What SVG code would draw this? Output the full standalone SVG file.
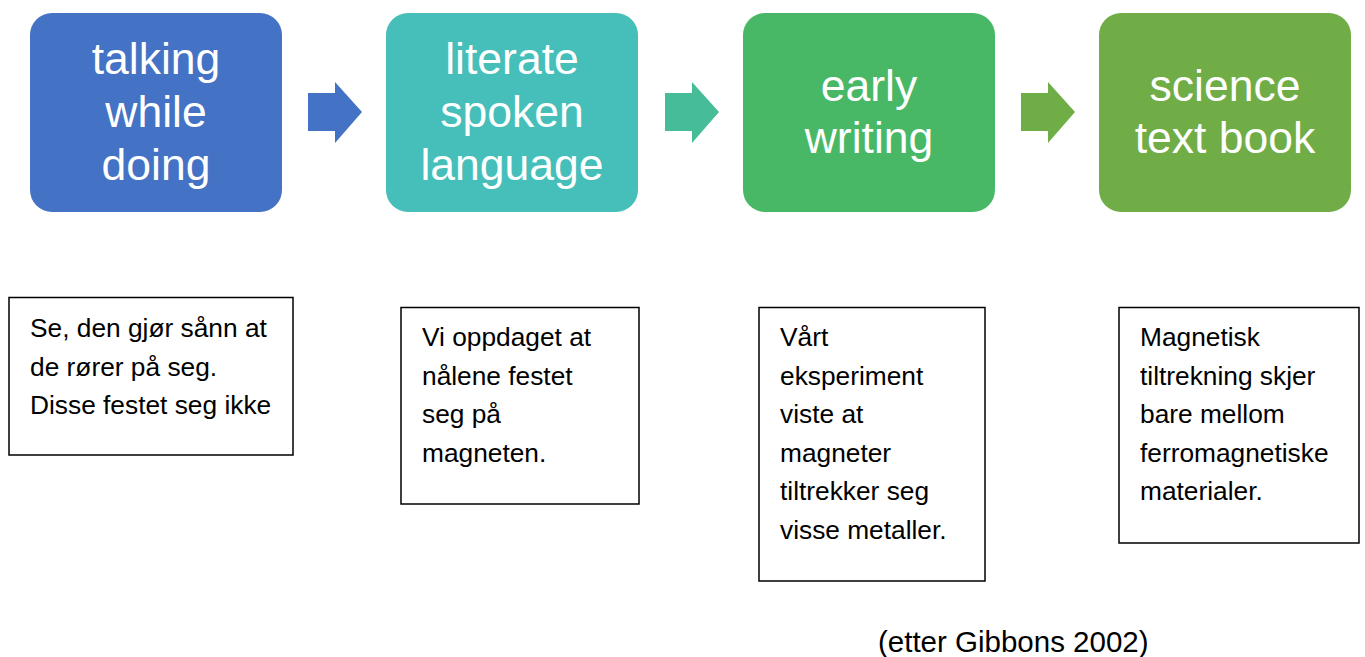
<svg xmlns="http://www.w3.org/2000/svg" width="1365" height="657" viewBox="0 0 1365 657">
<style>
.step{font-family:"Liberation Sans",Arial,sans-serif;font-size:44.5px;fill:#ffffff;text-anchor:middle}
.note{font-family:"Liberation Sans",Arial,sans-serif;font-size:26.3px;fill:#000000}
.nbox{fill:#ffffff;stroke:#000000;stroke-width:1.5}
.cap{font-family:"Liberation Sans",Arial,sans-serif;font-size:29.5px;fill:#000000}
</style>
<rect width="1365" height="657" fill="#ffffff"/>
<g id="connectors">
<polygon points="308,93 335,93 335,82 362,112 335,143 335,131 308,131" fill="#4472C4"/>
<polygon points="665,93 692,93 692,82 719,112 692,143 692,131 665,131" fill="#46BC98"/>
<polygon points="1021,93 1048,93 1048,82 1075,112 1048,143 1048,131 1021,131" fill="#6FAD47"/>
</g>
<g id="step1">
<rect x="30" y="13" width="252" height="199" rx="22" fill="#4472C4"/>
<text class="step" x="156" y="74">talking</text>
<text class="step" x="156" y="127">while</text>
<text class="step" x="156" y="180">doing</text>
</g>
<g id="step2">
<rect x="386" y="13" width="252" height="199" rx="22" fill="#46BFBA"/>
<text class="step" x="512" y="74">literate</text>
<text class="step" x="512" y="127">spoken</text>
<text class="step" x="512" y="180">language</text>
</g>
<g id="step3">
<rect x="743" y="13" width="252" height="199" rx="22" fill="#49B866"/>
<text class="step" x="869" y="101">early</text>
<text class="step" x="869" y="153">writing</text>
</g>
<g id="step4">
<rect x="1099" y="13" width="252" height="199" rx="22" fill="#70AD47"/>
<text class="step" x="1225" y="101">science</text>
<text class="step" x="1225" y="153">text book</text>
</g>
<g id="note1">
<rect class="nbox" x="9" y="297.5" width="284" height="157.5"/>
<text class="note" x="30" y="337">Se, den gjør sånn at</text>
<text class="note" x="30" y="376">de rører på seg.</text>
<text class="note" x="30" y="414">Disse festet seg ikke</text>
</g>
<g id="note2">
<rect class="nbox" x="401" y="307.5" width="238" height="196.5"/>
<text class="note" x="422" y="346">Vi oppdaget at</text>
<text class="note" x="422" y="385">nålene festet</text>
<text class="note" x="422" y="423">seg på</text>
<text class="note" x="422" y="462">magneten.</text>
</g>
<g id="note3">
<rect class="nbox" x="759" y="307.5" width="226" height="273.5"/>
<text class="note" x="780" y="346">Vårt</text>
<text class="note" x="780" y="385">eksperiment</text>
<text class="note" x="780" y="423">viste at</text>
<text class="note" x="780" y="462">magneter</text>
<text class="note" x="780" y="500">tiltrekker seg</text>
<text class="note" x="780" y="539">visse metaller.</text>
</g>
<g id="note4">
<rect class="nbox" x="1119" y="307.5" width="240" height="235.5"/>
<text class="note" x="1140" y="346">Magnetisk</text>
<text class="note" x="1140" y="385">tiltrekning skjer</text>
<text class="note" x="1140" y="423">bare mellom</text>
<text class="note" x="1140" y="462">ferromagnetiske</text>
<text class="note" x="1140" y="500">materialer.</text>
</g>
<g id="caption">
<text class="cap" x="878" y="652">(etter Gibbons 2002)</text>
</g>
</svg>
